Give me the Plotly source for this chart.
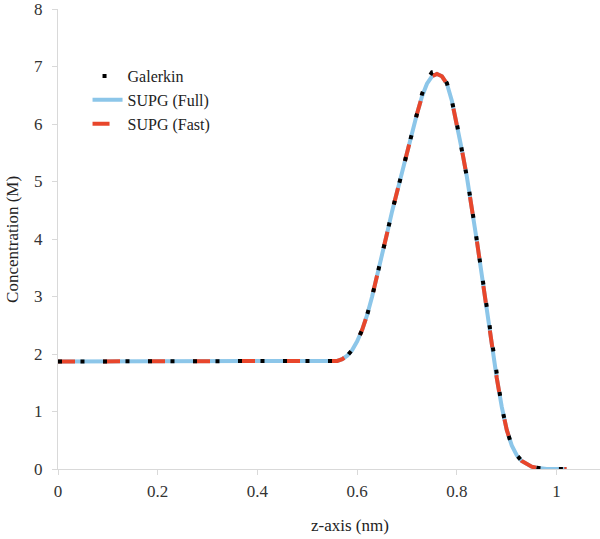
import plotly.graph_objects as go

# Data
x_nm = [0.0, 0.1, 0.2, 0.3, 0.4, 0.5, 0.55, 0.56, 0.57, 0.58, 0.59, 0.60, 0.61, 0.62,
        0.63, 0.64, 0.65, 0.66, 0.67, 0.68, 0.69, 0.70, 0.71, 0.72, 0.73, 0.74,
        0.75, 0.76, 0.77, 0.78, 0.79, 0.80, 0.81, 0.82, 0.83, 0.84, 0.85, 0.86,
        0.87, 0.88, 0.89, 0.90, 0.91, 0.92, 0.93, 0.94, 0.95, 0.96, 0.97, 0.98,
        1.0, 1.02]
supg_full = [1.87, 1.87, 1.87, 1.87, 1.87, 1.87, 1.87, 1.88, 1.91, 1.97, 2.07, 2.22, 2.42, 2.68,
             3.00, 3.35, 3.72, 4.10, 4.48, 4.83, 5.15, 5.48, 5.84, 6.18, 6.48, 6.70,
             6.83, 6.87, 6.83, 6.70, 6.40, 6.00, 5.55, 5.08, 4.55, 3.97, 3.37, 2.75,
             2.15, 1.58, 1.08, 0.68, 0.41, 0.24, 0.14, 0.08, 0.04, 0.02, 0.01, 0.0,
             0.0, 0.0]
supg_fast = list(supg_full)
galerkin = [1.87, 1.87, 1.87, 1.87, 1.87, 1.87, 1.87, 1.88, 1.91, 1.97, 2.07, 2.22, 2.42, 2.68,
            3.00, 3.35, 3.72, 4.10, 4.48, 4.83, 5.15, 5.48, 5.84, 6.19, 6.52, 6.76,
            6.90, 6.92, 6.85, 6.71, 6.40, 6.00, 5.55, 5.08, 4.55, 3.97, 3.37, 2.75,
            2.15, 1.58, 1.08, 0.68, 0.41, 0.24, 0.14, 0.08, 0.04, 0.02, 0.01, 0.0,
            0.0, 0.0]

x_ticks = [0, 0.2, 0.4, 0.6, 0.8, 1]
x_tick_labels = ["0", "0.2", "0.4", "0.6", "0.8", "1"]
y_ticks = [0, 1, 2, 3, 4, 5, 6, 7, 8]

BLUE = "#8CC6E9"
RED = "#E8462B"
FONT = "Liberation Serif, Times New Roman, serif"

fig = go.Figure()
# legend-only entry for Galerkin (single dot)
fig.add_trace(go.Scatter(x=[None], y=[None], mode="lines", name="Galerkin",
                         line=dict(color="black", width=4, dash="0px,10px,4px,40px"),
                         legendrank=1))
fig.add_trace(go.Scatter(x=x_nm, y=supg_full, mode="lines", name="SUPG (Full)",
                         line=dict(color=BLUE, width=4), legendrank=2))
fig.add_trace(go.Scatter(x=x_nm, y=supg_fast, mode="lines", name="SUPG (Fast)",
                         line=dict(color=RED, width=4, dash="17px,28px"), legendrank=3))
fig.add_trace(go.Scatter(x=x_nm, y=galerkin, mode="lines", name="Galerkin",
                         line=dict(color="black", width=4, dash="4px,18.5px"),
                         showlegend=False))

fig.update_layout(
    width=600, height=539,
    margin=dict(l=58, r=0, t=9, b=70, autoexpand=False),
    plot_bgcolor="white", paper_bgcolor="white",
    font=dict(family=FONT, size=17, color="#333333"),
    showlegend=True,
    legend=dict(x=0.0545, y=0.891, xanchor="left", yanchor="top",
                bgcolor="rgba(0,0,0,0)", font=dict(family=FONT, size=16, color="#222222"),
                tracegroupgap=0, itemwidth=30),
    xaxis=dict(range=[0, 1.087], tickvals=x_ticks, ticktext=x_tick_labels,
               showgrid=False, zeroline=False, showline=True, linecolor="#D9D9D9",
               linewidth=1, ticks="outside", ticklen=5, tickcolor="#D9D9D9",
               ticklabelstandoff=2, automargin=False, ticklabeloverflow="allow",
               tickfont=dict(family=FONT, size=17, color="#333333")),
    yaxis=dict(range=[0, 8.0001], tickvals=y_ticks, showgrid=False, zeroline=False,
               showline=True, linecolor="#D9D9D9", linewidth=1, ticks="outside",
               ticklen=5, tickcolor="#D9D9D9", ticklabelstandoff=6, automargin=False,
               ticklabeloverflow="allow",
               tickfont=dict(family=FONT, size=17, color="#333333")),
    annotations=[
        dict(text="z-axis (nm)", x=0.539, y=-0.122, xref="paper", yref="paper",
             xanchor="center", yanchor="middle", showarrow=False,
             font=dict(family=FONT, size=17, color="#222222")),
        dict(text="Concentration (M)", x=-0.085, y=0.5, xref="paper", yref="paper",
             xanchor="center", yanchor="middle", showarrow=False, textangle=-90,
             font=dict(family=FONT, size=17, color="#222222")),
    ],
)

fig.write_html("out.html", config={"displayModeBar": False},
               post_script="document.body.style.margin='0';document.body.style.padding='0';")
